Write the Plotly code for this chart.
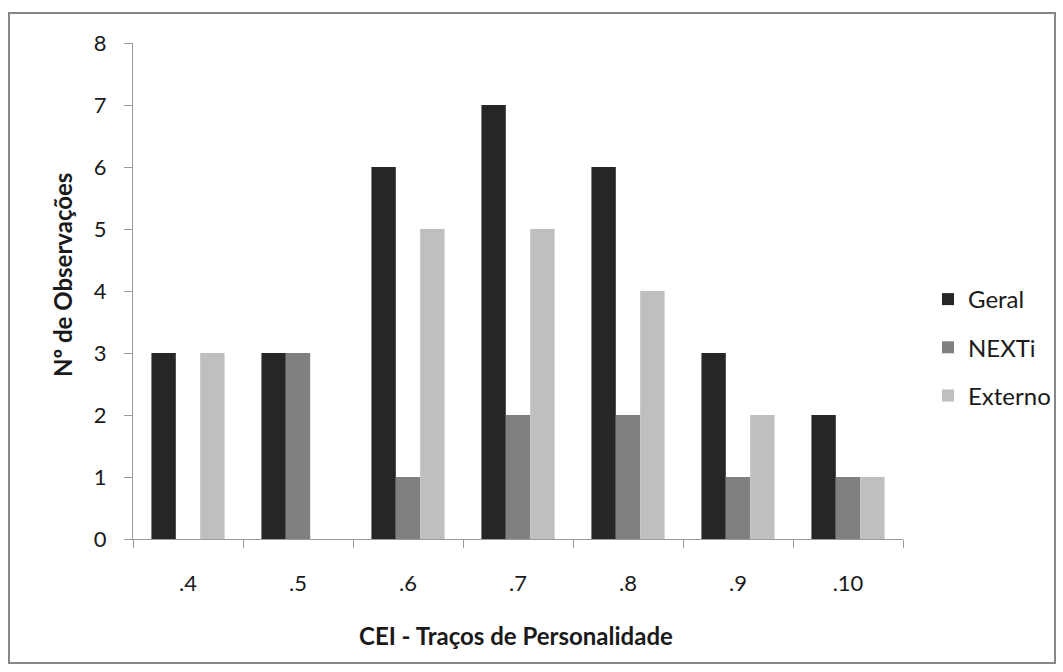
import plotly.graph_objects as go

categories = [".4", ".5", ".6", ".7", ".8", ".9", ".10"]
geral = [3, 3, 6, 7, 6, 3, 2]
nexti = [0, 3, 1, 2, 2, 1, 1]
externo = [3, 0, 5, 5, 4, 2, 1]
y_ticks = [0, 1, 2, 3, 4, 5, 6, 7, 8]

W, H = 1063, 672
ML, MR, MT, MB = 133, 160, 43, 133
FONT = "Lato"
TXT = "#1a1a1a"
AXIS_GREY = "#9a9a9a"

series = [
    ("Geral", geral, "#262626"),
    ("NEXTi", nexti, "#808080"),
    ("Externo", externo, "#bfbfbf"),
]

fig = go.Figure()
for i, (name, vals, color) in enumerate(series):
    fig.add_trace(go.Bar(
        x=categories, y=vals, name=name,
        marker=dict(color=color, line=dict(width=0)),
        legendgroup=f"g{i}",
    ))

pw = W - ML - MR
ph = H - MT - MB


def px_x(v):
    return (v - ML) / pw


def px_y(v):
    return (H - MB - v) / ph


fig.update_layout(
    width=W, height=H,
    margin=dict(l=ML, r=MR, t=MT, b=MB, autoexpand=False),
    paper_bgcolor="white", plot_bgcolor="white",
    barmode="group", bargap=0.335, bargroupgap=0,
    font=dict(family=FONT, size=22, color=TXT),
    showlegend=True,
    legend=dict(
        x=px_x(928), y=px_y(277), xanchor="left", yanchor="top",
        font=dict(family=FONT, size=24, color=TXT),
        itemwidth=30, traceorder="grouped", tracegroupgap=14,
        bgcolor="rgba(0,0,0,0)",
    ),
    xaxis=dict(
        type="category",
        showline=True, linecolor=AXIS_GREY, linewidth=1,
        ticks="outside", tickson="boundaries", ticklen=8,
        tickcolor=AXIS_GREY, tickwidth=1,
        ticklabelstandoff=25,
        showgrid=False, zeroline=False,
        tickfont=dict(family=FONT, size=22, color=TXT),
    ),
    yaxis=dict(
        range=[0, 8], tickvals=y_ticks,
        showline=True, linecolor=AXIS_GREY, linewidth=1,
        ticks="outside", ticklen=8, tickcolor=AXIS_GREY, tickwidth=1,
        ticklabelstandoff=13,
        showgrid=False, zeroline=False,
        tickfont=dict(family=FONT, size=22, color=TXT),
    ),
    annotations=[
        dict(text="<b>CEI - Traços de Personalidade</b>",
             xref="paper", yref="paper", x=px_x(516), y=px_y(635),
             xanchor="center", yanchor="middle", showarrow=False,
             font=dict(family=FONT, size=24, color=TXT)),
        dict(text="<b>Nº de Observações</b>", textangle=-90,
             xref="paper", yref="paper", x=px_x(62), y=px_y(275),
             xanchor="center", yanchor="middle", showarrow=False,
             font=dict(family=FONT, size=24, color=TXT)),
    ],
    shapes=[dict(
        type="rect", xref="paper", yref="paper",
        x0=px_x(9), x1=px_x(1055), y0=px_y(663), y1=px_y(13),
        line=dict(color="#868686", width=2), layer="below",
    )],
)

fig.write_html("out.html")
